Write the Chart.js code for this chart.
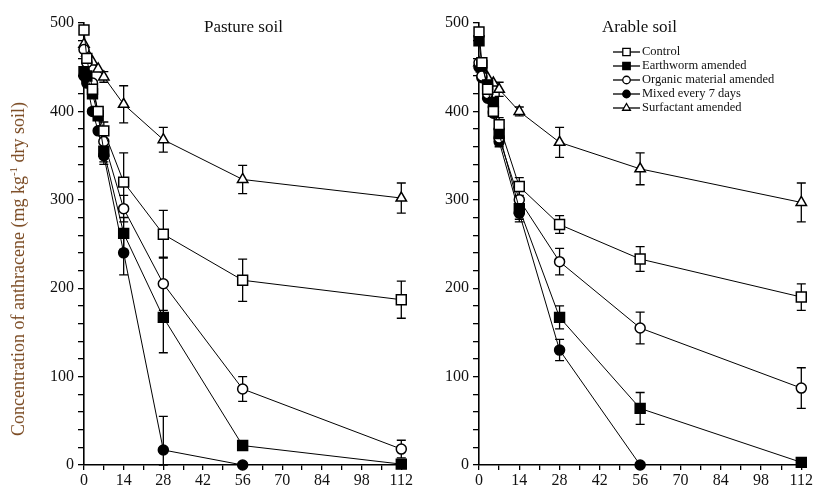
<!DOCTYPE html>
<html>
<head>
<meta charset="utf-8">
<script src="https://cdn.jsdelivr.net/npm/chart.js@4"></script>
<style>
    body { margin: 0; background: #fff; }
    #wrap { position: relative; width: 814px; height: 489px; overflow: hidden; }
    .panel { position: absolute; top: 0; height: 489px; }
    #left { left: 0; width: 414px; }
    #right { left: 414px; width: 400px; }
    .ptitle { position: absolute; top: 17px; font: 17px 'Liberation Serif', serif; color: #111; }
    #ytitle {
        position: absolute; left: 18px; top: 269px; white-space: nowrap;
        font: 18px 'Liberation Serif', serif; color: #7a4a22;
        transform: translate(-50%, -50%) rotate(-90deg);
    }
</style>
</head>
<body>
<div id="wrap">
    <div class="panel" id="left"><canvas id="pasture"></canvas></div>
    <div class="panel" id="right"><canvas id="arable"></canvas></div>
    <div class="ptitle" style="left: 204px;">Pasture soil</div>
    <div class="ptitle" style="left: 602px;">Arable soil</div>
    <div id="ytitle">Concentration of anthracene (mg kg<sup style="font-size:11px">-1</sup> dry soil)</div>
</div>
<script>
// sampling days (x axis)
const days = [0, 1, 3, 5, 7, 14, 28, 56, 112];
const xTicks = [0, 14, 28, 42, 56, 70, 84, 98, 112];
const yTicks = [0, 100, 200, 300, 400, 500];

const seriesNames = ['Control', 'Earthworm amended', 'Organic material amended', 'Mixed every 7 days', 'Surfactant amended'];

// Pasture soil, mg/kg
const pastureControl    = [492, 460, 425, 400, 378, 320, 261, 209, 187];
const pastureEarthworm  = [445, 440, 420, 395, 355, 262, 167, 22, 1];
const pastureOrganic    = [470, 455, 432, 398, 366, 290, 205, 86, 18];
const pastureMixed      = [440, 432, 400, 378, 350, 240, 17, 0, null];
const pastureSurfactant = [476, 466, 456, 448, 439, 408, 368, 323, 302];

const pastureControlErr    = [null, null, null, null, 10, 33, 27, 24, 21];
const pastureEarthwormErr  = [null, null, null, null, 12, 18, 40, 3, null];
const pastureOrganicErr    = [null, null, null, null, 8, 15, 30, 14, 10];
const pastureMixedErr      = [null, null, null, null, 10, 25, 38, null, null];
const pastureSurfactantErr = [null, null, null, null, 6, 21, 14, 16, 17];

// Arable soil, mg/kg
const arableControl    = [490, 455, 425, 400, 385, 315, 272, 233, 190];
const arableEarthworm  = [480, 452, 430, 410, 375, 290, 167, 64, 3];
const arableOrganic    = [455, 440, 420, 400, 370, 300, 230, 155, 87];
const arableMixed      = [450, 438, 415, 398, 366, 285, 130, 0, null];
const arableSurfactant = [455, 448, 438, 432, 425, 400, 365, 335, 297];

const arableControlErr    = [null, null, null, null, 8, 10, 10, 14, 15];
const arableEarthwormErr  = [null, null, null, null, 10, 12, 13, 18, 2];
const arableOrganicErr    = [null, null, null, null, 8, 10, 15, 18, 23];
const arableMixedErr      = [null, null, null, null, 6, 10, 12, null, null];
const arableSurfactantErr = [null, null, null, null, 8, 5, 17, 18, 22];

const serif = "'Liberation Serif', 'Times New Roman', serif";
const markers = [
    { pointStyle: 'rect', fill: '#fff', radius: 7 },
    { pointStyle: 'rect', fill: '#000', radius: 7 },
    { pointStyle: 'circle', fill: '#fff', radius: 5 },
    { pointStyle: 'circle', fill: '#000', radius: 5 },
    { pointStyle: 'triangle', fill: '#fff', radius: 6 }
];

function makeDatasets(values, errs) {
    return values.map((vals, i) => ({
        label: seriesNames[i],
        data: days.map((d, j) => vals[j] === null ? null : { x: d, y: vals[j] }).filter(p => p),
        errs: errs[i].filter((e, j) => vals[j] !== null),
        borderColor: '#000',
        borderWidth: 1,
        pointStyle: markers[i].pointStyle,
        pointRadius: markers[i].radius,
        pointBackgroundColor: markers[i].fill,
        pointBorderColor: '#000',
        pointBorderWidth: 1.5,
        tension: 0,
        clip: false
    }));
}

// vertical error bars with caps
const errorBars = {
    id: 'errorBars',
    beforeDatasetsDraw(chart) {
        const ctx = chart.ctx;
        const ys = chart.scales.y;
        ctx.save();
        ctx.strokeStyle = '#000';
        ctx.lineWidth = 1.3;
        chart.data.datasets.forEach((ds, i) => {
            const meta = chart.getDatasetMeta(i);
            ds.data.forEach((p, j) => {
                const e = ds.errs[j];
                if (!e) return;
                const px = meta.data[j].x;
                const top = ys.getPixelForValue(p.y + e);
                const bot = ys.getPixelForValue(Math.max(p.y - e, 0));
                ctx.beginPath();
                ctx.moveTo(px, top); ctx.lineTo(px, bot);
                ctx.moveTo(px - 4.5, top); ctx.lineTo(px + 4.5, top);
                ctx.moveTo(px - 4.5, bot); ctx.lineTo(px + 4.5, bot);
                ctx.stroke();
            });
        });
        ctx.restore();
    }
};

// legend drawn inside the plot area (right panel only)
const innerLegend = {
    id: 'innerLegend',
    afterDraw(chart, args, opts) {
        if (!opts.show) return;
        const ctx = chart.ctx;
        ctx.save();
        ctx.font = '12.5px ' + serif;
        ctx.textBaseline = 'middle';
        chart.data.datasets.forEach((ds, i) => {
            const y = opts.y + i * 14;
            const cx = opts.x + 13.5;
            const r = ds.pointRadius * 0.75;
            ctx.strokeStyle = '#000';
            ctx.lineWidth = 1.3;
            ctx.beginPath();
            ctx.moveTo(opts.x, y); ctx.lineTo(opts.x + 27, y);
            ctx.stroke();
            ctx.fillStyle = ds.pointBackgroundColor;
            ctx.beginPath();
            if (ds.pointStyle === 'rect') {
                const s = r * Math.SQRT1_2;
                ctx.rect(cx - s, y - s, 2 * s, 2 * s);
            } else if (ds.pointStyle === 'circle') {
                ctx.arc(cx, y, r, 0, Math.PI * 2);
            } else {
                ctx.moveTo(cx, y - r);
                ctx.lineTo(cx + r * 0.866, y + r * 0.5);
                ctx.lineTo(cx - r * 0.866, y + r * 0.5);
                ctx.closePath();
            }
            ctx.fill(); ctx.stroke();
            ctx.fillStyle = '#111';
            ctx.fillText(ds.label, opts.x + 29, y);
        });
        ctx.restore();
    }
};

function buildChart(canvasId, values, errs, axisWidth, padRight, showLegend) {
    new Chart(document.getElementById(canvasId), {
        type: 'line',
        data: { datasets: makeDatasets(values, errs) },
        options: {
            responsive: true,
            maintainAspectRatio: false,
            animation: false,
            layout: { padding: { top: 23, right: padRight, bottom: 0, left: 0 } },
            plugins: {
                legend: { display: false },
                tooltip: { enabled: false },
                innerLegend: { show: showLegend, x: 199, y: 52 }
            },
            scales: {
                x: {
                    type: 'linear',
                    min: 0, max: 112,
                    afterFit: s => { s.height = 24; },
                    ticks: {
                        stepSize: 7, autoSkip: false, maxRotation: 0, padding: 1,
                        color: '#111', font: { family: serif, size: 16 },
                        callback: v => xTicks.includes(v) ? String(v) : ''
                    },
                    grid: { drawOnChartArea: false, tickLength: 5, color: '#000', lineWidth: 1.3 },
                    border: { color: '#000', width: 1.6 }
                },
                y: {
                    min: 0, max: 500,
                    afterFit: s => { s.width = axisWidth; },
                    ticks: {
                        stepSize: 20, autoSkip: false, padding: 4,
                        color: '#111', font: { family: serif, size: 16 },
                        callback: v => yTicks.includes(v) ? String(v) : ''
                    },
                    grid: { drawOnChartArea: false, tickLength: 6, color: '#000', lineWidth: 1.3 },
                    border: { color: '#000', width: 1.6 }
                }
            }
        },
        plugins: [errorBars, innerLegend]
    });
}

buildChart('pasture',
    [pastureControl, pastureEarthworm, pastureOrganic, pastureMixed, pastureSurfactant],
    [pastureControlErr, pastureEarthwormErr, pastureOrganicErr, pastureMixedErr, pastureSurfactantErr],
    84, 5, false);

buildChart('arable',
    [arableControl, arableEarthworm, arableOrganic, arableMixed, arableSurfactant],
    [arableControlErr, arableEarthwormErr, arableOrganicErr, arableMixedErr, arableSurfactantErr],
    65, 10, true);
</script>
</body>
</html>
